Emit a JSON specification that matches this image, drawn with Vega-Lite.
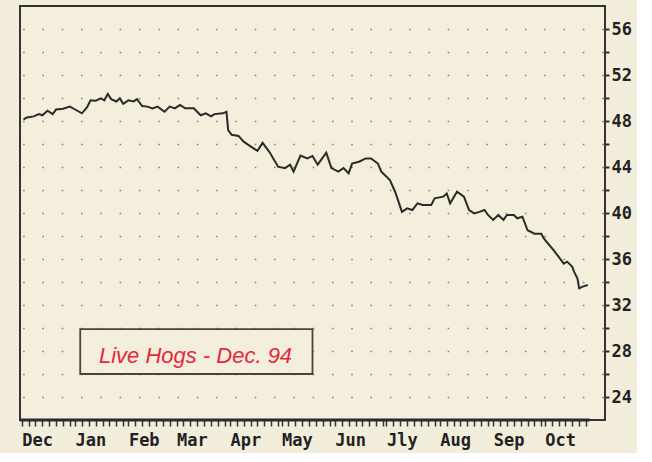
{
  "$schema": "https://vega.github.io/schema/vega-lite/v6.json",
  "width": 585,
  "height": 414,
  "padding": {"left": 18, "top": 6, "right": 5, "bottom": 5},
  "background": "#f3eedb",
  "config": {
    "view": {"stroke": "#333333", "strokeWidth": 2, "fill": "#f4efdc"}
  },
  "datasets": {
    "prices": [
      {"date": "1993-12-02", "price": 48.15},
      {"date": "1993-12-04", "price": 48.3},
      {"date": "1993-12-08", "price": 48.4},
      {"date": "1993-12-11", "price": 48.6},
      {"date": "1993-12-13", "price": 48.5},
      {"date": "1993-12-16", "price": 48.9},
      {"date": "1993-12-19", "price": 48.6},
      {"date": "1993-12-21", "price": 49.0},
      {"date": "1993-12-25", "price": 49.07},
      {"date": "1993-12-29", "price": 49.25},
      {"date": "1994-01-01", "price": 49.0},
      {"date": "1994-01-05", "price": 48.67},
      {"date": "1994-01-08", "price": 49.2},
      {"date": "1994-01-10", "price": 49.8},
      {"date": "1994-01-13", "price": 49.77},
      {"date": "1994-01-16", "price": 49.97},
      {"date": "1994-01-18", "price": 49.8},
      {"date": "1994-01-20", "price": 50.35},
      {"date": "1994-01-22", "price": 49.9},
      {"date": "1994-01-25", "price": 49.7},
      {"date": "1994-01-27", "price": 49.97},
      {"date": "1994-01-29", "price": 49.5},
      {"date": "1994-02-01", "price": 49.8},
      {"date": "1994-02-04", "price": 49.7},
      {"date": "1994-02-06", "price": 49.9},
      {"date": "1994-02-09", "price": 49.3},
      {"date": "1994-02-12", "price": 49.25},
      {"date": "1994-02-15", "price": 49.1},
      {"date": "1994-02-18", "price": 49.25},
      {"date": "1994-02-22", "price": 48.8},
      {"date": "1994-02-25", "price": 49.25},
      {"date": "1994-02-28", "price": 49.1},
      {"date": "1994-03-03", "price": 49.4},
      {"date": "1994-03-06", "price": 49.1},
      {"date": "1994-03-11", "price": 49.1},
      {"date": "1994-03-15", "price": 48.5},
      {"date": "1994-03-18", "price": 48.67},
      {"date": "1994-03-21", "price": 48.4},
      {"date": "1994-03-23", "price": 48.6},
      {"date": "1994-03-28", "price": 48.67},
      {"date": "1994-03-30", "price": 48.8},
      {"date": "1994-03-31", "price": 47.2},
      {"date": "1994-04-02", "price": 46.8},
      {"date": "1994-04-06", "price": 46.7},
      {"date": "1994-04-09", "price": 46.2},
      {"date": "1994-04-13", "price": 45.8},
      {"date": "1994-04-17", "price": 45.4},
      {"date": "1994-04-20", "price": 46.1},
      {"date": "1994-04-24", "price": 45.3},
      {"date": "1994-04-29", "price": 44.03},
      {"date": "1994-05-03", "price": 43.9},
      {"date": "1994-05-06", "price": 44.2},
      {"date": "1994-05-08", "price": 43.6},
      {"date": "1994-05-12", "price": 45.0},
      {"date": "1994-05-16", "price": 44.75},
      {"date": "1994-05-19", "price": 44.96},
      {"date": "1994-05-22", "price": 44.2},
      {"date": "1994-05-27", "price": 45.25},
      {"date": "1994-05-30", "price": 43.9},
      {"date": "1994-06-03", "price": 43.6},
      {"date": "1994-06-06", "price": 43.9},
      {"date": "1994-06-09", "price": 43.45},
      {"date": "1994-06-11", "price": 44.3},
      {"date": "1994-06-15", "price": 44.46},
      {"date": "1994-06-19", "price": 44.75},
      {"date": "1994-06-22", "price": 44.75},
      {"date": "1994-06-26", "price": 44.3},
      {"date": "1994-06-28", "price": 43.6},
      {"date": "1994-07-03", "price": 42.87},
      {"date": "1994-07-06", "price": 41.85},
      {"date": "1994-07-10", "price": 40.1},
      {"date": "1994-07-13", "price": 40.4},
      {"date": "1994-07-16", "price": 40.26},
      {"date": "1994-07-19", "price": 40.84},
      {"date": "1994-07-22", "price": 40.7},
      {"date": "1994-07-27", "price": 40.7},
      {"date": "1994-07-29", "price": 41.28},
      {"date": "1994-08-03", "price": 41.42},
      {"date": "1994-08-05", "price": 41.7},
      {"date": "1994-08-07", "price": 40.84},
      {"date": "1994-08-11", "price": 41.85},
      {"date": "1994-08-15", "price": 41.42},
      {"date": "1994-08-18", "price": 40.26},
      {"date": "1994-08-21", "price": 39.97},
      {"date": "1994-08-24", "price": 40.1},
      {"date": "1994-08-27", "price": 40.26},
      {"date": "1994-08-29", "price": 39.83},
      {"date": "1994-09-01", "price": 39.4},
      {"date": "1994-09-04", "price": 39.83},
      {"date": "1994-09-07", "price": 39.4},
      {"date": "1994-09-09", "price": 39.83},
      {"date": "1994-09-13", "price": 39.83},
      {"date": "1994-09-15", "price": 39.54},
      {"date": "1994-09-18", "price": 39.68},
      {"date": "1994-09-21", "price": 38.5},
      {"date": "1994-09-25", "price": 38.2},
      {"date": "1994-09-29", "price": 38.2},
      {"date": "1994-09-30", "price": 37.9},
      {"date": "1994-10-02", "price": 37.5},
      {"date": "1994-10-06", "price": 36.8},
      {"date": "1994-10-09", "price": 36.2},
      {"date": "1994-10-12", "price": 35.6},
      {"date": "1994-10-14", "price": 35.77},
      {"date": "1994-10-17", "price": 35.33},
      {"date": "1994-10-18", "price": 34.9},
      {"date": "1994-10-20", "price": 34.3},
      {"date": "1994-10-21", "price": 33.45},
      {"date": "1994-10-23", "price": 33.6},
      {"date": "1994-10-26", "price": 33.74}
    ],
    "annotation": [
      {"label": "Live Hogs - Dec. 94", "date": "1994-03-12", "start": "1994-01-04", "end": "1994-05-19", "price": 27.6, "top": 29.9, "bottom": 26.0}
    ],
    "baseline": [
      {"date": "1993-11-30", "end": "1994-10-27", "price": 22}
    ]
  },
  "data": {"name": "prices"},
  "encoding": {
    "x": {
      "field": "date",
      "type": "temporal",
      "scale": {
        "type": "utc",
        "domain": [
          {"year": 1993, "month": 11, "date": 30, "utc": true},
          {"year": 1994, "month": 11, "date": 5, "utc": true}
        ]
      },
      "axis": {
        "title": null,
        "orient": "bottom",
        "domain": false,
        "grid": false,
        "values": [
          {"year": 1993, "month": 12, "date": 1, "utc": true},
          {"year": 1993, "month": 12, "date": 5, "utc": true},
          {"year": 1993, "month": 12, "date": 9, "utc": true},
          {"year": 1993, "month": 12, "date": 13, "utc": true},
          {"year": 1993, "month": 12, "date": 17, "utc": true},
          {"year": 1993, "month": 12, "date": 21, "utc": true},
          {"year": 1993, "month": 12, "date": 25, "utc": true},
          {"year": 1993, "month": 12, "date": 29, "utc": true},
          {"year": 1994, "month": 1, "date": 1, "utc": true},
          {"year": 1994, "month": 1, "date": 5, "utc": true},
          {"year": 1994, "month": 1, "date": 9, "utc": true},
          {"year": 1994, "month": 1, "date": 13, "utc": true},
          {"year": 1994, "month": 1, "date": 17, "utc": true},
          {"year": 1994, "month": 1, "date": 21, "utc": true},
          {"year": 1994, "month": 1, "date": 25, "utc": true},
          {"year": 1994, "month": 1, "date": 29, "utc": true},
          {"year": 1994, "month": 2, "date": 1, "utc": true},
          {"year": 1994, "month": 2, "date": 5, "utc": true},
          {"year": 1994, "month": 2, "date": 9, "utc": true},
          {"year": 1994, "month": 2, "date": 13, "utc": true},
          {"year": 1994, "month": 2, "date": 17, "utc": true},
          {"year": 1994, "month": 2, "date": 21, "utc": true},
          {"year": 1994, "month": 2, "date": 25, "utc": true},
          {"year": 1994, "month": 3, "date": 1, "utc": true},
          {"year": 1994, "month": 3, "date": 5, "utc": true},
          {"year": 1994, "month": 3, "date": 9, "utc": true},
          {"year": 1994, "month": 3, "date": 13, "utc": true},
          {"year": 1994, "month": 3, "date": 17, "utc": true},
          {"year": 1994, "month": 3, "date": 21, "utc": true},
          {"year": 1994, "month": 3, "date": 25, "utc": true},
          {"year": 1994, "month": 3, "date": 29, "utc": true},
          {"year": 1994, "month": 4, "date": 1, "utc": true},
          {"year": 1994, "month": 4, "date": 5, "utc": true},
          {"year": 1994, "month": 4, "date": 9, "utc": true},
          {"year": 1994, "month": 4, "date": 13, "utc": true},
          {"year": 1994, "month": 4, "date": 17, "utc": true},
          {"year": 1994, "month": 4, "date": 21, "utc": true},
          {"year": 1994, "month": 4, "date": 25, "utc": true},
          {"year": 1994, "month": 4, "date": 29, "utc": true},
          {"year": 1994, "month": 5, "date": 1, "utc": true},
          {"year": 1994, "month": 5, "date": 5, "utc": true},
          {"year": 1994, "month": 5, "date": 9, "utc": true},
          {"year": 1994, "month": 5, "date": 13, "utc": true},
          {"year": 1994, "month": 5, "date": 17, "utc": true},
          {"year": 1994, "month": 5, "date": 21, "utc": true},
          {"year": 1994, "month": 5, "date": 25, "utc": true},
          {"year": 1994, "month": 5, "date": 29, "utc": true},
          {"year": 1994, "month": 6, "date": 1, "utc": true},
          {"year": 1994, "month": 6, "date": 5, "utc": true},
          {"year": 1994, "month": 6, "date": 9, "utc": true},
          {"year": 1994, "month": 6, "date": 13, "utc": true},
          {"year": 1994, "month": 6, "date": 17, "utc": true},
          {"year": 1994, "month": 6, "date": 21, "utc": true},
          {"year": 1994, "month": 6, "date": 25, "utc": true},
          {"year": 1994, "month": 6, "date": 29, "utc": true},
          {"year": 1994, "month": 7, "date": 1, "utc": true},
          {"year": 1994, "month": 7, "date": 5, "utc": true},
          {"year": 1994, "month": 7, "date": 9, "utc": true},
          {"year": 1994, "month": 7, "date": 13, "utc": true},
          {"year": 1994, "month": 7, "date": 17, "utc": true},
          {"year": 1994, "month": 7, "date": 21, "utc": true},
          {"year": 1994, "month": 7, "date": 25, "utc": true},
          {"year": 1994, "month": 7, "date": 29, "utc": true},
          {"year": 1994, "month": 8, "date": 1, "utc": true},
          {"year": 1994, "month": 8, "date": 5, "utc": true},
          {"year": 1994, "month": 8, "date": 9, "utc": true},
          {"year": 1994, "month": 8, "date": 13, "utc": true},
          {"year": 1994, "month": 8, "date": 17, "utc": true},
          {"year": 1994, "month": 8, "date": 21, "utc": true},
          {"year": 1994, "month": 8, "date": 25, "utc": true},
          {"year": 1994, "month": 8, "date": 29, "utc": true},
          {"year": 1994, "month": 9, "date": 1, "utc": true},
          {"year": 1994, "month": 9, "date": 5, "utc": true},
          {"year": 1994, "month": 9, "date": 9, "utc": true},
          {"year": 1994, "month": 9, "date": 13, "utc": true},
          {"year": 1994, "month": 9, "date": 17, "utc": true},
          {"year": 1994, "month": 9, "date": 21, "utc": true},
          {"year": 1994, "month": 9, "date": 25, "utc": true},
          {"year": 1994, "month": 9, "date": 29, "utc": true},
          {"year": 1994, "month": 10, "date": 1, "utc": true},
          {"year": 1994, "month": 10, "date": 5, "utc": true},
          {"year": 1994, "month": 10, "date": 9, "utc": true},
          {"year": 1994, "month": 10, "date": 13, "utc": true},
          {"year": 1994, "month": 10, "date": 17, "utc": true},
          {"year": 1994, "month": 10, "date": 21, "utc": true},
          {"year": 1994, "month": 10, "date": 25, "utc": true}
        ],
        "labelExpr": "utcdate(datum.value) == 1 ? ['Jan','Feb','Mar','Apr','May','Jun','Jly','Aug','Sep','Oct','Nov','Dec'][utcmonth(datum.value)] : ''",
        "labelAlign": "left",
        "labelOverlap": false,
        "labelFlush": false,
        "labelBound": false,
        "tickSize": 6,
        "tickWidth": 1.5,
        "tickColor": "#333333",
        "labelFont": "DejaVu Sans Mono",
        "labelFontWeight": "bold",
        "labelFontSize": 17,
        "labelColor": "#222222",
        "labelPadding": 6
      }
    },
    "y": {
      "field": "price",
      "type": "quantitative",
      "scale": {"domain": [22, 58], "nice": false, "zero": false},
      "axis": {
        "title": null,
        "orient": "right",
        "domain": false,
        "values": [24, 26, 28, 30, 32, 34, 36, 38, 40, 42, 44, 46, 48, 50, 52, 54, 56],
        "labelExpr": "datum.value % 4 == 0 ? datum.label : ''",
        "grid": true,
        "gridDash": [1.6, 17.7],
        "gridDashOffset": 17.5,
        "gridColor": "#6b6b6b",
        "gridWidth": 1.6,
        "gridOpacity": 0.8,
        "tickSize": 4,
        "tickWidth": 2,
        "tickColor": "#333333",
        "labelFont": "DejaVu Sans Mono",
        "labelFontWeight": "bold",
        "labelFontSize": 17,
        "labelColor": "#222222",
        "labelPadding": 2,
        "labelOverlap": false
      }
    }
  },
  "layer": [
    {
      "data": {"name": "annotation"},
      "mark": {"type": "rect", "fill": "#f4efdc", "stroke": "#444444", "strokeWidth": 1.8},
      "encoding": {
        "x": {"field": "start", "type": "temporal"},
        "x2": {"field": "end"},
        "y": {"field": "top", "type": "quantitative"},
        "y2": {"field": "bottom"}
      }
    },
    {
      "data": {"name": "annotation"},
      "mark": {"type": "text", "font": "Liberation Sans", "fontStyle": "italic", "fontSize": 22, "color": "#e5283c", "align": "center", "baseline": "middle"},
      "encoding": {
        "text": {"field": "label"}
      }
    },
    {
      "data": {"name": "baseline"},
      "mark": {"type": "rule", "color": "#2a2a2a", "strokeWidth": 3},
      "encoding": {
        "x2": {"field": "end"}
      }
    },
    {
      "mark": {"type": "line", "color": "#2a2a2a", "strokeWidth": 2},
      "encoding": {}
    }
  ]
}
